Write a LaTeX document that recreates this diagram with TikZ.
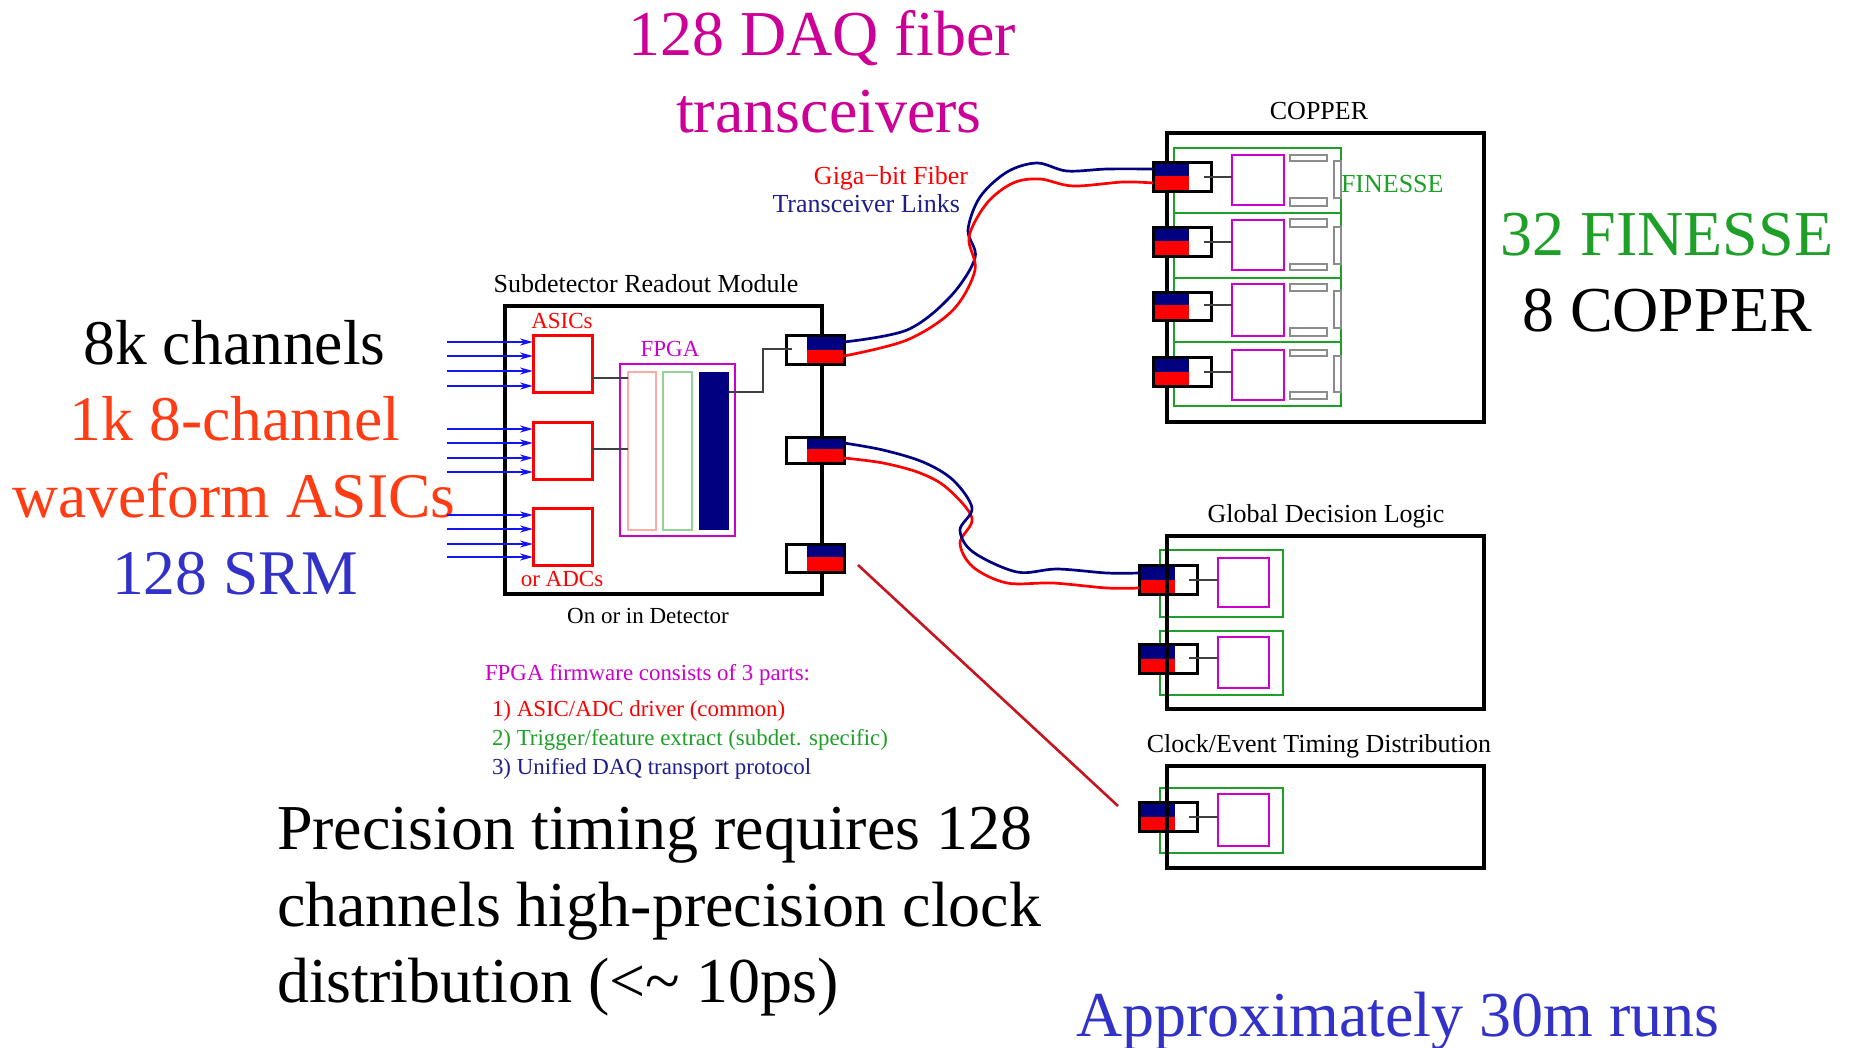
\documentclass[tikz,border=0pt]{standalone}
\usepackage{fontspec}
\setmainfont{Liberation Serif}
\usetikzlibrary{arrows.meta}
\definecolor{navyc}{RGB}{0,0,128}
\definecolor{navyt}{RGB}{30,30,140}
\definecolor{redc}{RGB}{255,0,0}
\definecolor{magc}{RGB}{204,0,204}
\definecolor{daqc}{RGB}{204,0,150}
\definecolor{orangec}{RGB}{255,60,20}
\definecolor{srmc}{RGB}{50,50,200}
\definecolor{greenc}{RGB}{30,160,40}
\definecolor{arrowc}{RGB}{20,20,240}
\definecolor{pinkbar}{RGB}{255,170,170}
\definecolor{greenbar}{RGB}{150,210,150}
\definecolor{grayc}{RGB}{140,140,140}
\definecolor{timec}{RGB}{200,20,30}
\newcommand{\boxat}[6][]{%
  \pgfmathsetmacro{\bw}{#5-#3}\pgfmathsetmacro{\bh}{#6-#4}%
  \pgfmathsetmacro{\bx}{(#3+#5)/2}\pgfmathsetmacro{\by}{(#4+#6)/2}%
  \node[#1,minimum width=\bw pt,minimum height=\bh pt] (#2) at (\bx,\by) {};}
\newcommand{\linkbox}[8]{%
  \boxat[linkframe,fill=white]{#1back}{#2}{#3}{#4}{#5}%
  \fill[navyc] (#6,#3) rectangle (#7,#8);
  \fill[redc] (#6,#8) rectangle (#7,#5);
  \boxat[linkframe]{#1}{#2}{#3}{#4}{#5}}
\tikzset{
  x=1pt,y=-1pt,
  every node/.style={inner sep=0pt,outer sep=0pt},
  crate/.style={draw=black,line width=4.4pt},
  linkframe/.style={draw=black,line width=3pt},
  asicbox/.style={draw=redc,line width=3pt},
  fpgabox/.style={draw=magc,line width=2.8pt},
  cardbox/.style={draw=greenc,line width=1.6pt},
  grayslot/.style={draw=grayc,line width=1.6pt},
  wire/.style={draw=black!75,line width=1.2pt},
  inarrow/.style={draw=arrowc,line width=1.9pt,-{Stealth[length=13pt,width=7pt]}},
  fiberb/.style={draw=navyc,line width=2.7pt,line join=round},
  fiberr/.style={draw=redc,line width=2.7pt,line join=round},
  big/.style={font=\fontsize{64}{64}\selectfont,anchor=base},
  bigm/.style={font=\fontsize{63.6}{64}\selectfont,anchor=base},
  bigl/.style={font=\fontsize{64}{64}\selectfont,anchor=base west},
  lab/.style={font=\fontsize{26}{26}\selectfont,anchor=base},
  labm/.style={font=\fontsize{23}{23}\selectfont,anchor=base},
  labs/.style={font=\fontsize{22.9}{22.9}\selectfont,anchor=base west},
}
\begin{document}
\begin{tikzpicture}
\useasboundingbox (0,0) rectangle (1851,1047);
\fill[white] (0,0) rectangle (1851,1047);

% big texts
\node[big,text=daqc] (tdaq) at (822,55) {128 DAQ fiber};
\node[big,text=daqc] (ttrans) at (829,132) {transceivers};
\node[bigm] (t8k) at (234.500,364) {8k channels};
\node[bigm,text=orangec] (t1k) at (235,440) {1k 8-channel};
\node[bigm,text=orangec] (twave) at (234,517) {waveform ASICs};
\node[bigm,text=srmc] (tsrm) at (235,594) {128 SRM};
\node[big,text=greenc] (t32) at (1667,255) {32 FINESSE};
\node[big] (t8c) at (1667,331) {8 COPPER};
\node[bigl] (tp1) at (277,849) {Precision timing requires 128};
\node[bigl] (tp2) at (277,926) {channels high-precision clock};
\node[bigl] (tp3) at (277,1002) {distribution (<\textasciitilde{} 10ps)};
\node[bigl,text=srmc] (tapp) at (1076,1036) {Approximately 30m runs};

% Subdetector readout module
\boxat[crate]{srm}{505}{306}{822}{594}
\node[lab] (lsrm) at (646,292) {Subdetector Readout Module};
\node[labm,text=redc] (lasic) at (562,328) {ASICs};
\node[labm,text=redc] (ladc) at (562,586) {or ADCs};
\node[labm,text=magc] (lfpga) at (670,356) {FPGA};
\node[labm] (ldet) at (648,623) {On or in Detector};
\boxat[asicbox]{asicA}{533}{335}{592}{392}
\boxat[asicbox]{asicB}{533}{422}{592}{479}
\boxat[asicbox]{asicC}{533}{508}{592}{565}
\boxat[fpgabox]{fpga}{620}{364}{735}{536}
\boxat[draw=pinkbar,line width=1.6pt]{fwa}{628}{372}{656}{530}
\boxat[draw=greenbar,line width=1.6pt]{fwb}{663}{372}{692}{530}
\boxat[fill=navyc]{fwc}{699}{372}{729}{530}

% input arrows
\foreach \i/\y/\t in {1/342/asicA,2/356/asicA,3/371/asicA,4/386/asicA,5/429/asicB,6/443/asicB,7/458/asicB,8/472/asicB,9/515/asicC,10/529/asicC,11/544/asicC,12/557/asicC}{
  \coordinate (in\i) at (447,\y);
  \draw[inarrow] (in\i) -- (\t.west |- in\i);
}

% SRM links
\linkbox{srmA}{786}{335}{844}{364}{807}{844}{350}
\linkbox{srmB}{786}{437}{844}{463}{807}{844}{449}
\linkbox{srmC}{786}{544}{844}{572}{807}{844}{557}
\coordinate (wa) at (592,378);
\coordinate (wb) at (592,449);
\draw[wire] (wa) -- (fwa.west |- wa);
\draw[wire] (wb) -- (fwa.west |- wb);
\coordinate (wc) at (729,392);
\coordinate (wd) at (792,349);
\draw[wire,line width=1.8pt] (wc) -| (763,349) -- (wd);

% COPPER
\boxat[crate]{copper}{1167}{133}{1484}{422}
\node[lab] (lcop) at (1319,119) {COPPER};
\node[lab,anchor=base west,text=greenc] (lfin) at (1341,192) {FINESSE};
\boxat[cardbox]{cardA}{1174}{148}{1341}{213}
\boxat[cardbox]{cardB}{1174}{213}{1341}{278}
\boxat[cardbox]{cardC}{1174}{278}{1341}{342}
\boxat[cardbox]{cardD}{1174}{342}{1341}{406}
\boxat[fpgabox]{fmA}{1232}{155}{1284}{205}
\boxat[fpgabox]{fmB}{1232}{220}{1284}{270}
\boxat[fpgabox]{fmC}{1232}{284}{1284}{336}
\boxat[fpgabox]{fmD}{1232}{350}{1284}{400}
\foreach \n/\a/\b/\c/\d in {A/155/161/198/206,B/219/227/264/270,C/284/291/328/336,D/350/356/392/399}{
  \boxat[grayslot]{sl\n}{1290}{\a}{1327}{\b}
  \boxat[grayslot]{sm\n}{1290}{\c}{1327}{\d}
  \boxat[grayslot]{sr\n}{1334}{\b}{1341}{\c}
}
\linkbox{finA}{1153}{162}{1211}{191}{1153}{1189}{176}
\linkbox{finB}{1153}{227}{1211}{256}{1153}{1189}{241}
\linkbox{finC}{1153}{292}{1211}{320}{1153}{1189}{305}
\linkbox{finD}{1153}{357}{1211}{386}{1153}{1189}{372}
\foreach \n/\y in {A/177,B/242,C/305,D/372}{
  \coordinate (fw\n) at (1204,\y);
  \draw[wire,line width=1.6pt] (fw\n) -- (fm\n.west |- fw\n);
}

% Global decision logic
\node[lab] (lgdl) at (1326,522) {Global Decision Logic};
\boxat[cardbox]{gcA}{1160}{550}{1283}{617}
\boxat[cardbox]{gcB}{1160}{631}{1283}{695}
\boxat[fpgabox]{gmA}{1218}{558}{1269}{607}
\boxat[fpgabox]{gmB}{1218}{637}{1269}{688}
\linkbox{gdlA}{1139}{565}{1197}{594}{1139}{1175}{580}
\linkbox{gdlB}{1139}{644}{1197}{673}{1139}{1175}{659}
\boxat[crate]{gdl}{1167}{536}{1484}{709}
\coordinate (gwA) at (1189,580);
\coordinate (gwB) at (1189,658);
\draw[wire] (gwA) -- (gmA.west |- gwA);
\draw[wire] (gwB) -- (gmB.west |- gwB);

% Clock / event timing
\node[lab] (lclk) at (1319,752) {Clock/Event Timing Distribution};
\boxat[cardbox]{ccA}{1160}{788}{1283}{853}
\boxat[fpgabox]{cmA}{1218}{794}{1269}{846}
\linkbox{clkA}{1139}{802}{1197}{831}{1139}{1175}{817}
\boxat[crate]{clk}{1167}{766}{1484}{868}
\coordinate (cwA) at (1189,817);
\draw[wire] (cwA) -- (cmA.west |- cwA);

% fibers
\coordinate (fb1s) at ([yshift=7.5pt]srmA.east);
\coordinate (fr1s) at ([yshift=-6.5pt]srmA.east);
\coordinate (fb1e) at ([yshift=7.5pt]finA.west);
\coordinate (fr1e) at ([yshift=-6.5pt]finA.west);
\draw[fiberb] plot[smooth,tension=.55] coordinates {(fb1s) (907,330) (950,297) (975,258) (968,230) (980,197) (1007,172) (1037,163) (1067,171) (1107,169) (fb1e)};
\draw[fiberr] plot[smooth,tension=.55] coordinates {(fr1s) (907,340) (953,310) (975,270) (969,237) (987,203) (1013,183) (1040,179) (1073,186) (1123,182) (fr1e)};
\coordinate (fb2s) at ([yshift=7pt]srmB.east);
\coordinate (fr2s) at ([yshift=-8pt]srmB.east);
\coordinate (fb2e) at ([yshift=6.5pt]gdlA.west);
\coordinate (fr2e) at ([yshift=-8.5pt]gdlA.west);
\draw[fiberr] plot[smooth,tension=.55] coordinates {(fr2s) (883,463) (920,473) (947,488) (972,518) (960,543) (973,567) (1007,583) (1053,583) (1107,588) (fr2e)};
\draw[fiberb] plot[smooth,tension=.55] coordinates {(fb2s) (883,450) (923,462) (953,480) (972,508) (960,530) (973,552) (1017,572) (1057,569) (1107,573) (fb2e)};
\coordinate (ts) at (858,565);
\coordinate (te) at (1118,806);
\draw[timec,line width=2.6pt] (ts) -- (te);

% fiber label
\node[lab,anchor=base east,text=redc] (lgiga) at (968,184) {Giga−bit Fiber};
\node[lab,anchor=base east,text=navyt] (ltr) at (960,212) {Transceiver Links};

% firmware text
\node[labs,text=magc] (ff0) at (485,680) {FPGA firmware consists of 3 parts:};
\node[labs,text=redc] (ff1) at (492,716) {1) ASIC/ADC driver (common)};
\node[labs,text=greenc] (ff2) at (492,745) {2) Trigger/feature extract (subdet. specific)};
\node[labs,text=navyt] (ff3) at (492,774) {3) Unified DAQ transport protocol};
\end{tikzpicture}
\end{document}
